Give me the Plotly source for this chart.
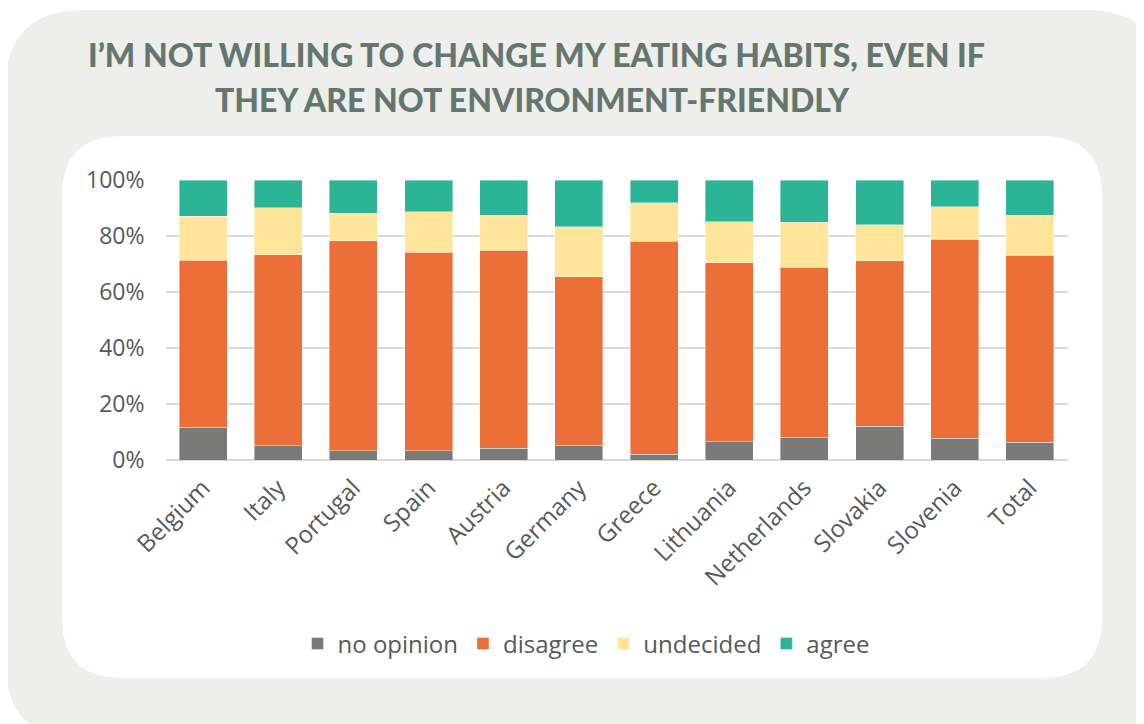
import plotly.graph_objects as go

countries = ["Belgium", "Italy", "Portugal", "Spain", "Austria", "Germany", "Greece",
             "Lithuania", "Netherlands", "Slovakia", "Slovenia", "Total"]
no_opinion = [11.7, 5.1, 3.3, 3.3, 4.2, 5.2, 2.0, 6.5, 8.1, 12.0, 7.7, 6.3]
disagree = [59.7, 68.2, 75.0, 70.9, 70.8, 60.2, 76.2, 64.0, 60.8, 59.2, 71.2, 66.9]
undecided = [15.7, 16.8, 9.8, 14.5, 12.5, 17.9, 13.7, 14.6, 16.0, 12.8, 11.6, 14.3]
agree = [12.9, 9.9, 11.9, 11.3, 12.5, 16.7, 8.1, 14.9, 15.1, 16.0, 9.5, 12.5]
y_ticks = [0, 20, 40, 60, 80, 100]
y_tick_labels = [f"{v}%" for v in y_ticks]
title_lines = ["I\u2019M NOT WILLING TO CHANGE MY EATING HABITS, EVEN IF",
               "THEY ARE NOT ENVIRONMENT-FRIENDLY"]

W, H = 1144, 724
OFF = 8  # page body margin


def px(x):
    return (x - OFF) / W


def py(y):
    return 1 - (y - OFF) / H


def rrect(x0, y0, x1, y1, r):
    pts = [
        ("M", [(x0 + r, y0)]),
        ("L", [(x1 - r, y0)]),
        ("Q", [(x1, y0), (x1, y0 + r)]),
        ("L", [(x1, y1 - r)]),
        ("Q", [(x1, y1), (x1 - r, y1)]),
        ("L", [(x0 + r, y1)]),
        ("Q", [(x0, y1), (x0, y1 - r)]),
        ("L", [(x0, y0 + r)]),
        ("Q", [(x0, y0), (x0 + r, y0)]),
    ]
    s = ""
    for cmd, ps in pts:
        s += cmd + " " + " ".join(f"{px(a):.5f},{py(b):.5f}" for a, b in ps) + " "
    return s + "Z"


series = [
    ("no opinion", no_opinion, "#7a7a78"),
    ("disagree", disagree, "#ec6e39"),
    ("undecided", undecided, "#fee599"),
    ("agree", agree, "#2bb596"),
]

fig = go.Figure()
for name, vals, col in series:
    fig.add_trace(go.Bar(
        x=countries, y=vals, name=name,
        marker=dict(color=col, line=dict(color="rgba(255,255,255,0.5)", width=0.8)),
    ))

lab_font = "'Open Sans', sans-serif"
title_font = "Lato, sans-serif"
fig.update_layout(
    barmode="stack",
    bargap=0.36,
    width=W, height=H,
    margin=dict(l=0, r=0, t=0, b=0),
    paper_bgcolor="white",
    plot_bgcolor="rgba(0,0,0,0)",
    font=dict(family=lab_font, color="#595959", size=22),
    xaxis=dict(domain=[px(165.5), px(1067.5)], showgrid=False, showline=False,
               tickangle=-45, tickfont=dict(size=24, color="#595959"),
               ticks="", ticklabelstandoff=8, automargin=False),
    yaxis=dict(domain=[py(460), py(180)], range=[0, 100], tickvals=y_ticks,
               ticktext=y_tick_labels, gridcolor="#d9d9d9", gridwidth=2,
               zeroline=True, zerolinecolor="#d9d9d9", zerolinewidth=2,
               showline=False, tickfont=dict(size=23, color="#595959"),
               ticklabelstandoff=20, automargin=False),
    legend=dict(orientation="h", x=px(586), y=py(644), xanchor="center", yanchor="middle",
                font=dict(size=24, color="#595959"), bgcolor="rgba(0,0,0,0)",
                traceorder="normal"),
    showlegend=True,
    shapes=[
        dict(type="path", xref="paper", yref="paper", layer="below",
             path=rrect(5, 10, 1165, 740, 80), fillcolor="#eeeeec", line=dict(width=0)),
        dict(type="path", xref="paper", yref="paper", layer="below",
             path=rrect(62, 136, 1102, 678, 60), fillcolor="white", line=dict(width=0)),
    ],
    annotations=[
        dict(text=title_lines[0], x=px(536), y=py(54), xref="paper", yref="paper",
             showarrow=False, xanchor="center", yanchor="middle",
             font=dict(family=title_font, size=32, color="#64776e", weight=900)),
        dict(text=title_lines[1], x=px(532), y=py(99), xref="paper", yref="paper",
             showarrow=False, xanchor="center", yanchor="middle",
             font=dict(family=title_font, size=32, color="#64776e", weight=900)),
    ],
)

fig.write_html("out.html")
